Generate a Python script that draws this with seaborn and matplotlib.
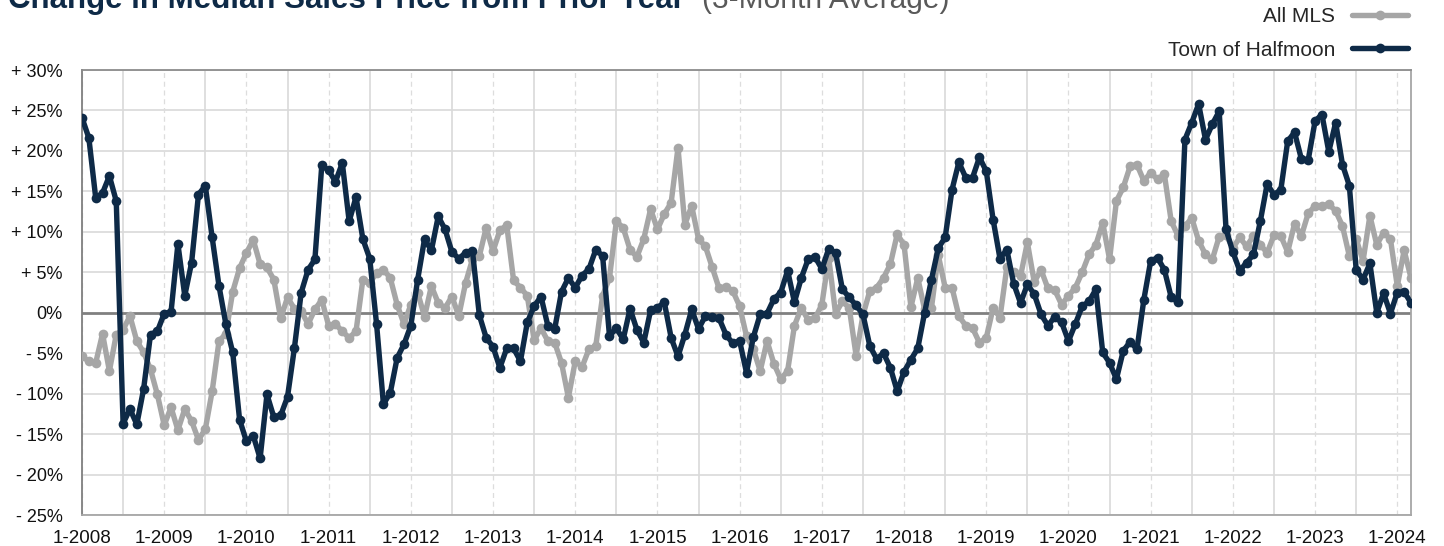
import numpy as np
import pandas as pd
import matplotlib
matplotlib.use('Agg')
import matplotlib.pyplot as plt
from matplotlib.lines import Line2D
import seaborn as sns

# monthly values, Jan 2008 .. Mar 2024 (one row per year)
years = list(range(2008, 2025))
halfmoon = [
    24.1, 21.6, 14.2, 14.8, 16.9, 13.8, -13.7, -11.9, -13.8, -9.4, -2.7, -2.3,
    -0.1, 0.1, 8.5, 2.1, 6.2, 14.6, 15.7, 9.3, 3.3, -1.4, -4.9, -13.2,
    -15.9, -15.2, -18.0, -10.1, -12.9, -12.7, -10.4, -4.4, 2.5, 5.3, 6.6, 18.2,
    17.6, 16.2, 18.5, 11.3, 14.3, 9.1, 6.7, -1.4, -11.3, -9.9, -5.6, -3.9,
    -1.6, 4.1, 9.1, 7.7, 11.9, 10.3, 7.5, 6.7, 7.4, 7.6, -0.3, -3.1,
    -4.2, -6.8, -4.4, -4.4, -6.0, -1.2, 0.8, 2.0, -1.6, -2.0, 2.6, 4.3,
    3.1, 4.6, 5.4, 7.8, 7.0, -2.9, -1.9, -3.3, 0.5, -2.1, -3.7, 0.3,
    0.6, 1.3, -3.1, -5.4, -2.7, 0.4, -2.0, -0.4, -0.5, -0.7, -2.7, -3.8,
    -3.5, -7.4, -3.0, -0.2, -0.1, 1.7, 2.5, 5.2, 1.3, 4.3, 6.6, 6.9,
    5.4, 7.9, 7.4, 2.9, 1.9, 0.9, -0.2, -4.1, -5.7, -5.0, -6.8, -9.7,
    -7.3, -5.8, -4.4, 0.0, 4.1, 8.0, 9.3, 15.2, 18.6, 16.7, 16.7, 19.2,
    17.5, 11.5, 6.7, 7.8, 3.6, 1.2, 3.5, 2.3, -0.2, -1.6, -0.5, -1.2,
    -3.5, -1.4, 0.8, 1.4, 2.9, -4.9, -6.2, -8.2, -4.7, -3.6, -4.5, 1.6,
    6.4, 6.8, 5.3, 1.9, 1.3, 21.4, 23.5, 25.8, 21.4, 23.3, 24.9, 10.3,
    7.5, 5.2, 6.2, 7.2, 11.3, 15.9, 14.6, 15.2, 21.2, 22.3, 19.0, 18.9,
    23.7, 24.5, 19.9, 23.5, 18.3, 15.7, 5.3, 4.1, 6.1, 0.0, 2.4, -0.1,
    2.5, 2.6, 1.2,
]
all_mls = [
    -5.4, -6.0, -6.2, -2.6, -7.2, -2.7, -2.1, -0.4, -3.5, -4.9, -7.0, -10.1,
    -13.9, -11.7, -14.5, -11.9, -13.4, -15.7, -14.4, -9.7, -3.5, -2.6, 2.6, 5.5,
    7.4, 9.0, 6.0, 5.6, 4.1, -0.7, 1.9, 0.5, 0.2, -1.4, 0.4, 1.6,
    -1.6, -1.4, -2.3, -3.1, -2.3, 4.1, 3.7, 4.9, 5.3, 4.3, 1.0, -1.4,
    1.0, 2.5, -0.5, 3.3, 1.2, 0.6, 2.0, -0.4, 3.7, 6.6, 7.0, 10.5,
    7.6, 10.2, 10.8, 4.0, 3.1, 2.1, -3.4, -1.9, -3.5, -3.7, -6.2, -10.5,
    -6.0, -6.7, -4.5, -4.1, 2.1, 4.3, 11.3, 10.5, 7.8, 6.9, 9.1, 12.8,
    10.3, 12.2, 13.6, 20.4, 10.9, 13.2, 9.1, 8.2, 5.6, 3.0, 3.2, 2.7,
    0.8, -2.9, -4.5, -7.2, -3.5, -6.3, -8.2, -7.2, -1.6, 0.6, -0.9, -0.7,
    1.0, 6.8, -0.1, 1.4, 0.6, -5.3, -0.3, 2.7, 3.1, 4.3, 6.0, 9.7,
    8.4, 0.7, 4.3, 0.4, 0.6, 7.1, 3.1, 3.1, -0.4, -1.6, -1.9, -3.7,
    -3.1, 0.6, -0.6, 5.6, 5.0, 4.5, 8.7, 3.8, 5.3, 3.0, 2.8, 1.0,
    2.1, 3.1, 5.0, 7.2, 8.4, 11.1, 6.6, 13.8, 15.5, 18.1, 18.3, 16.3,
    17.3, 16.5, 17.1, 11.3, 9.5, 10.7, 11.7, 8.9, 7.2, 6.6, 9.4, 9.6,
    8.0, 9.3, 8.2, 9.5, 8.4, 7.4, 9.6, 9.5, 7.5, 11.0, 9.5, 12.3,
    13.2, 13.2, 13.4, 12.6, 10.7, 7.0, 9.1, 6.4, 12.0, 8.4, 9.9, 9.1,
    3.3, 7.7, 4.3,
]
series_names = ['All MLS', 'Town of Halfmoon']
colors = {'All MLS': '#A6A6A6', 'Town of Halfmoon': '#0E2A47'}
y_ticks = list(range(-25, 35, 5))
y_labels = ['%s%d%%' % ('+ ' if v > 0 else ('- ' if v < 0 else ''), abs(v)) for v in y_ticks]
x_labels = ['1-%d' % y for y in years]

months = np.arange(len(halfmoon))
df = pd.DataFrame({
    'month': np.concatenate([months, months]),
    'change': all_mls + halfmoon,
    'series': [series_names[0]] * len(all_mls) + [series_names[1]] * len(halfmoon),
})

sns.set_theme(style='white')
plt.rcParams['font.family'] = ['Liberation Sans', 'DejaVu Sans']

fig = plt.figure(figsize=(14.44, 5.46), dpi=100)
ax = fig.add_axes([82 / 1444, 31 / 546, 1329 / 1444, 445 / 546])

# grid
for v in y_ticks:
    if v == 0:
        continue
    ax.axhline(v, color='#D9D9D9', lw=1.2, zorder=0)
for k in range(len(years)):
    ax.axvline(12 * k + 6, color='#D9D9D9', lw=1.2, zorder=0)
    ax.axvline(12 * k, color='#DDDDDD', lw=0.9, ls=(0, (4, 3)), zorder=0)
ax.axhline(0, color='#808080', lw=2, zorder=1)

sns.lineplot(data=df, x='month', y='change', hue='series', hue_order=series_names,
             palette=colors, marker='o', markersize=7, markeredgewidth=0,
             linewidth=3.9, ax=ax, legend=False, zorder=3)

ax.set_xlim(0, len(halfmoon) - 1)
ax.set_ylim(-25, 30)
ax.set_yticks(y_ticks)
ax.set_yticklabels(y_labels)
ax.set_xticks(range(0, len(halfmoon), 12))
ax.set_xticklabels(x_labels)
ax.set_xlabel('')
ax.set_ylabel('')
ax.tick_params(axis='y', length=0, labelsize=13, pad=14, colors='#111111')
ax.tick_params(axis='x', length=0, labelsize=13.5, pad=11, colors='#111111')
ax.spines['top'].set_color('#8C8C8C')
ax.spines['left'].set_color('#7F7F7F')
ax.spines['bottom'].set_color('#A6A6A6')
ax.spines['right'].set_color('#A6A6A6')
for s in ax.spines.values():
    s.set_linewidth(1.3)

handles = [Line2D([], [], color=colors[n], lw=3.9, marker='o', markersize=7, mew=0)
           for n in series_names]
fig.legend(handles, series_names, loc='upper right', bbox_to_anchor=(1408 / 1444, 1 - 7 / 546),
           frameon=False, markerfirst=False, fontsize=15, handlelength=2.7,
           handletextpad=0.8, labelspacing=0.7, borderpad=0, borderaxespad=0)

# title is partly clipped by the top edge, as in the source image
fig.text(8 / 1444, 1 - 8 / 546, 'Change in Median Sales Price from Prior Year',
         fontsize=22.5, fontweight='bold', color='#0E2A47', va='baseline')
fig.text(702 / 1444, 1 - 8 / 546, '(3-Month Average)',
         fontsize=21.5, color='#595959', va='baseline')

fig.savefig('out.png', dpi=100)
